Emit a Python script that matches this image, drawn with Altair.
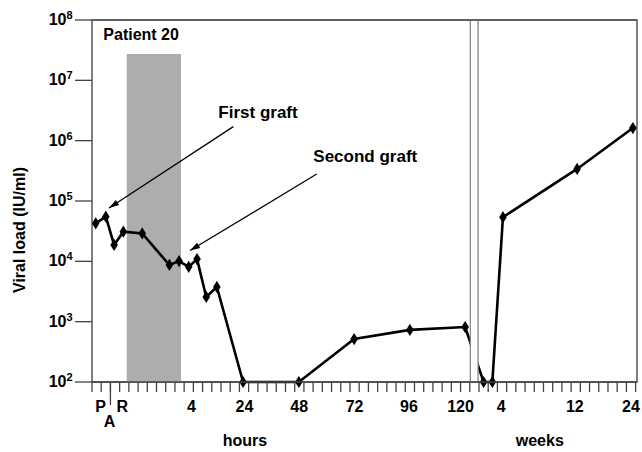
import altair as alt
import pandas as pd

FONT = "Liberation Sans"
W, H = 545, 362

# Broken time axis: one slot per tick. Hours section occupies slots 0-41,
# a one-slot break, then the weeks section occupies slots 42-59.
hours_slot = [0.4, 1.5, 2.4, 3.4, 5.45, 8.4, 9.45, 10.5, 11.4, 12.4, 13.55,
              16.4, 22.45, 28.45, 34.5, 40.5]
hours_load = [42700, 55000, 18700, 31000, 29000, 8700, 10100, 8100, 10900,
              2570, 3760, 100, 100, 516, 730, 815]
weeks_slot = [42.5, 43.45, 44.6, 52.65, 58.7]
weeks_load = [100, 100, 54000, 340000, 1620000]

# Tick labels along the time axis
tick_text = ["P", "R", "4", "24", "48", "72", "96", "120", "4", "12", "24"]
tick_slot = [0.94, 3.29, 10.8, 16.55, 22.48, 28.5, 34.4, 40.0, 44.4, 52.4, 58.5]
anhepatic_label = "A"
anhepatic_slot = 1.9
tick_positions = list(range(0, 60))

# Shaded anhepatic phase and the axis break
shade_start, shade_end, shade_top = 3.77, 9.66, 2.73e7
break_start, break_end = 41.06, 41.9

# y-axis decades
decades = [2, 3, 4, 5, 6, 7, 8]
y_title = "Viral load (IU/ml)"

# Arrow annotations (tail -> head)
arrows = pd.DataFrame({
    "label": ["First graft", "Second graft"],
    "x0": [15.34, 24.39], "y0": [1.71e6, 2.8e5],
    "x1": [1.85, 10.64], "y1": [7.65e4, 1.51e4],
    "angle": [236.8, 238.9],
    "tx": [13.71, 24.02], "ty": [2.88e6, 5.4e5],
})

x_scale = alt.Scale(domain=[0, 59.15], nice=False, zero=False)
y_scale = alt.Scale(type="log", domain=[1e2, 1e8], nice=False)


def X(field):
    return alt.X(field, scale=x_scale, axis=None)


def Y(field):
    return alt.Y(field, scale=y_scale, axis=None)


def one(**cols):
    return pd.DataFrame({k: [v] for k, v in cols.items()})


series = pd.DataFrame({"slot": hours_slot + weeks_slot,
                       "load": hours_load + weeks_load})
decade_df = pd.DataFrame({"load": [10 ** k for k in decades],
                          "exp": [str(k) for k in decades]})

shade = alt.Chart(one(a=shade_start, b=shade_end, lo=1e2, hi=shade_top)).mark_rect(
    color="#adadad").encode(x=X("a:Q"), x2="b:Q", y=Y("lo:Q"), y2="hi:Q")

line = alt.Chart(series).mark_line(color="black", strokeWidth=2.6,
                                   strokeJoin="miter").encode(
    x=X("slot:Q"), y=Y("load:Q"))

diamond = "M0,-1L0.62,0L0,1L-0.62,0Z"
points = alt.Chart(series).mark_point(
    shape=diamond, filled=True, color="black", size=150, opacity=1).encode(
    x=X("slot:Q"), y=Y("load:Q"))

gap = alt.Chart(one(a=break_start, b=break_end)).mark_rect(
    fill="white", stroke="#888", strokeWidth=1.3).encode(
    x=X("a:Q"), x2="b:Q", y=alt.value(0), y2=alt.value(H))

frame_top = alt.Chart(one(k=0)).mark_rule(color="#555", strokeWidth=1.5).encode(
    x=alt.value(0), x2=alt.value(W), y=alt.value(0))
frame_bottom = alt.Chart(one(k=0)).mark_rule(color="#444", strokeWidth=1.5).encode(
    x=alt.value(0), x2=alt.value(W), y=alt.value(H))

# x-axis ticks
tick_marks = alt.Chart(pd.DataFrame({"slot": tick_positions})).mark_rule(
    color="#444", strokeWidth=1.3).encode(
    x=X("slot:Q"), y=alt.value(H), y2=alt.value(H + 10))

long_tick = alt.Chart(one(slot=2)).mark_rule(color="#444", strokeWidth=1.3).encode(
    x=X("slot:Q"), y=alt.value(H), y2=alt.value(H + 23))

tick_labels = alt.Chart(pd.DataFrame({"slot": tick_slot, "text": tick_text})).mark_text(
    font=FONT, fontWeight="bold", fontSize=16, color="black",
    baseline="middle", align="center").encode(
    x=X("slot:Q"), y=alt.value(H + 25), text="text:N")

a_label = alt.Chart(one(slot=anhepatic_slot, text=anhepatic_label)).mark_text(
    font=FONT, fontWeight="bold", fontSize=16, color="black",
    baseline="middle", align="center").encode(
    x=X("slot:Q"), y=alt.value(H + 40), text="text:N")

units = alt.Chart(pd.DataFrame({"slot": [16.6, 48.6],
                                "text": ["hours", "weeks"]})).mark_text(
    font=FONT, fontWeight="bold", fontSize=16, color="black",
    baseline="middle", align="center").encode(
    x=X("slot:Q"), y=alt.value(H + 59), text="text:N")

# y-axis ticks, "10" labels with exponents, and title
ytick_marks = alt.Chart(decade_df).mark_rule(color="#444", strokeWidth=1.3).encode(
    x=alt.value(-17), x2=alt.value(0), y=Y("load:Q"))

ybase = alt.Chart(decade_df).mark_text(
    font=FONT, fontWeight="bold", fontSize=16, color="black",
    baseline="middle", align="right").encode(
    x=alt.value(-25.5), y=Y("load:Q"), text=alt.value("10"))

exps = alt.Chart(decade_df).mark_text(
    font=FONT, fontWeight="bold", fontSize=11, color="black",
    baseline="middle", align="left", dy=-4).encode(
    x=alt.value(-25.5), y=Y("load:Q"), text="exp:N")

ytitle = alt.Chart(one(text=y_title)).mark_text(
    font=FONT, fontWeight="bold", fontSize=16, color="black",
    baseline="middle", align="center", angle=270).encode(
    x=alt.value(-72), y=alt.value(210), text="text:N")

arrow_lines = alt.Chart(arrows).mark_rule(color="black", strokeWidth=1.3).encode(
    x=X("x0:Q"), y=Y("y0:Q"), x2="x1:Q", y2="y1:Q")

arrow_head = "M0,0L-0.55,1.8L0.55,1.8Z"
arrow_heads = alt.Chart(arrows).mark_point(
    shape=arrow_head, filled=True, color="black", size=125, opacity=1).encode(
    x=X("x1:Q"), y=Y("y1:Q"), angle=alt.Angle("angle:Q", scale=None))

arrow_text = alt.Chart(arrows).mark_text(
    font=FONT, fontWeight="bold", fontSize=17, color="black",
    baseline="middle", align="left").encode(
    x=X("tx:Q"), y=Y("ty:Q"), text="label:N")

patient = alt.Chart(one(slot=1.23, load=5.6e7, text="Patient 20")).mark_text(
    font=FONT, fontWeight="bold", fontSize=16, color="black",
    baseline="middle", align="left").encode(
    x=X("slot:Q"), y=Y("load:Q"), text="text:N")

chart = alt.layer(
    shade, line, points, gap, frame_top, frame_bottom, tick_marks, long_tick,
    ytick_marks, ybase, exps, ytitle, tick_labels, a_label, units,
    arrow_lines, arrow_heads, arrow_text, patient
).properties(
    width=W, height=H,
    autosize=alt.AutoSizeParams(type="none"),
    padding={"left": 92, "top": 20, "right": 5, "bottom": 70},
    background="white",
).configure_view(stroke="#555", strokeWidth=1.5)

chart.save("out.html", embed_options={"renderer": "svg", "actions": False})
